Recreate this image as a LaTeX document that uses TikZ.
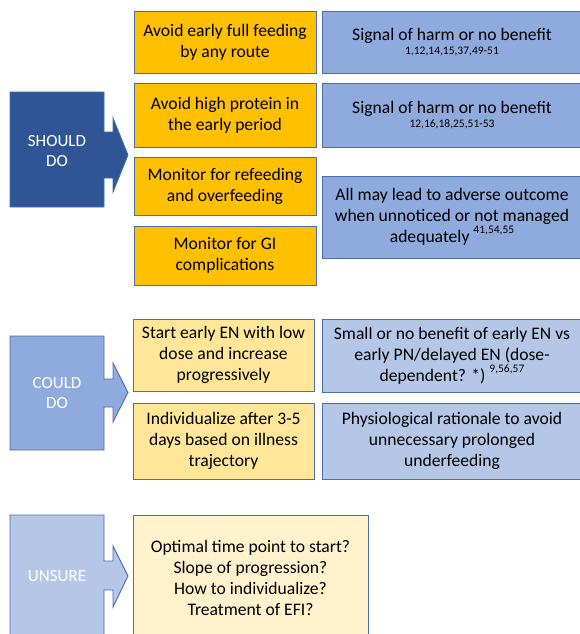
\documentclass[tikz,border=0pt]{standalone}
\usepackage{fontspec}
\setmainfont{Carlito}
\definecolor{darkblue}{HTML}{2F5597}
\definecolor{darkedge}{HTML}{41719C}
\definecolor{midblue}{HTML}{8FAADC}
\definecolor{lightblue}{HTML}{B4C7E7}
\definecolor{blueedge}{HTML}{4C6EA8}
\definecolor{orng}{HTML}{FFC000}
\definecolor{ltyellow}{HTML}{FFE699}
\definecolor{paleyellow}{HTML}{FFF2CC}
\newcommand{\refsup}[1]{\raisebox{0.5em}{\fontsize{11.5}{12}\selectfont #1}}
\newcommand{\refline}[1]{{\fontsize{11.5}{12}\selectfont #1}}
\tikzset{
  box/.style={draw=blueedge, line width=0.9pt, align=center, inner sep=0pt,
    font=\fontsize{17.6}{21}\selectfont, text=black},
  obox/.style={box, fill=orng, minimum width=182pt},
  bbox/.style={box, fill=midblue, minimum width=260pt},
  ybox/.style={box, fill=ltyellow, minimum width=181pt},
  lbbox/.style={box, fill=lightblue, minimum width=260pt},
  callout/.style={line width=0.9pt},
  calltext/.style={align=center, text=white, font=\fontsize{17}{20.5}\selectfont}
}
\begin{document}
\begin{tikzpicture}[x=1pt,y=-1pt]
\useasboundingbox (0,0) rectangle (579,634);

% SHOULD DO
\draw[callout, fill=darkblue, draw=darkedge]
  (10,92) -- (104,92) -- (104,132) -- (113,132) -- (113,118) -- (128,155)
  -- (113,192) -- (113,178) -- (104,178) -- (104,207) -- (10,207) -- cycle;
\node[calltext] (should) at (57,151) {SHOULD\\DO};

\node[obox, minimum height=62pt] (o1) at (225,42) {Avoid early full feeding\\by any route};
\node[obox, minimum height=64pt] (o2) at (225,115) {Avoid high protein in\\the early period};
\node[obox, minimum height=58pt] (o3) at (225,186) {Monitor for refeeding\\and overfeeding};
\node[obox, minimum height=59pt] (o4) at (225,255.5) {Monitor for GI\\complications};

\node[bbox, minimum height=62pt] (b1) at (452,42)
  {Signal of harm or no benefit\\[-7pt]\refline{1,12,14,15,37,49-51}};
\node[bbox, minimum height=64pt] (b2) at (452,115)
  {Signal of harm or no benefit\\[-7pt]\refline{12,16,18,25,51-53}};
\node[bbox, minimum height=82pt] (b3) at (452,217)
  {All may lead to adverse outcome\\when unnoticed or not managed\\adequately \refsup{41,54,55}};

% COULD DO
\draw[callout, fill=midblue, draw=blueedge]
  (10,336) -- (104,336) -- (104,379) -- (113,379) -- (113,363) -- (128,392.5)
  -- (113,422) -- (113,407) -- (104,407) -- (104,450) -- (10,450) -- cycle;
\node[calltext] (could) at (57,393) {COULD\\DO};

\node[ybox, minimum height=72pt] (y1) at (223.5,355) {Start early EN with low\\dose and increase\\progressively};
\node[ybox, minimum height=76pt] (y2) at (223.5,441) {Individualize after 3-5\\days based on illness\\trajectory};

\node[lbbox, minimum height=73pt] (c1) at (452,355.5)
  {Small or no benefit of early EN vs\\early PN/delayed EN (dose-\\dependent? *) \refsup{9,56,57}};
\node[lbbox, minimum height=76pt] (c2) at (452,441)
  {Physiological rationale to avoid\\unnecessary prolonged\\underfeeding};

% UNSURE
\draw[callout, fill=lightblue, draw=blueedge]
  (10,515) -- (104,515) -- (104,561) -- (113,561) -- (113,546) -- (128,576)
  -- (113,607) -- (113,590) -- (104,590) -- (104,645) -- (10,645) -- cycle;
\node[calltext] (unsure) at (57,576) {UNSURE};

\node[box, fill=paleyellow, minimum width=235pt, minimum height=125pt] (u1) at (250.5,577.5)
  {Optimal time point to start?\\Slope of progression?\\How to individualize?\\Treatment of EFI?};
\end{tikzpicture}
\end{document}
